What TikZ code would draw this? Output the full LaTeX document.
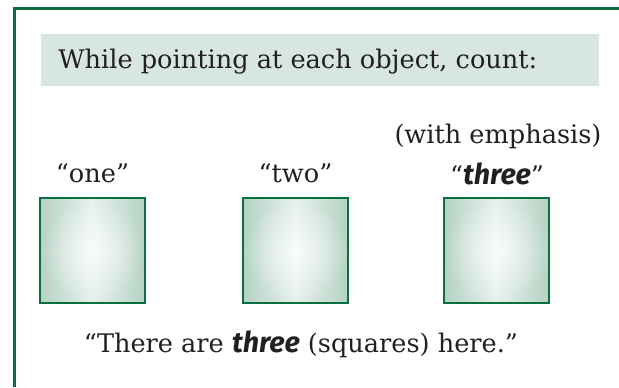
\documentclass[tikz,border=0pt]{standalone}
\usepackage{fontspec}
\setmainfont{DejaVu Serif}
\newfontfamily\emfont[Scale=1.12]{Fira Sans}
\usetikzlibrary{fadings}
\definecolor{framegreen}{RGB}{10,110,62}
\definecolor{bandgreen}{RGB}{215,231,223}
\definecolor{sqgreen}{RGB}{180,210,196}
\definecolor{sqpale}{RGB}{230,240,235}
\definecolor{inkgray}{RGB}{35,31,32}
\tikzfading[name=sqglow, inner color=transparent!25, outer color=transparent!100]
\newcommand{\emword}[1]{{\emfont\bfseries\itshape #1}}
\tikzset{
  framerule/.style = {framegreen,line width=1.5pt},
  headband/.style  = {fill=bandgreen,draw=none},
  countsq/.style   = {draw=framegreen,line width=1.2pt,minimum size=52.5pt,inner sep=0pt,
                      left color=sqgreen,right color=sqgreen,middle color=sqpale,
                      postaction={fill=white,path fading=sqglow}},
  countlbl/.style  = {font=\fontsize{12.8}{15.5}\selectfont,text=inkgray,inner sep=0pt}
}

\begin{document}
\begin{tikzpicture}[x=0.5pt,y=-0.5pt]
  \useasboundingbox (0,0) rectangle (619,387);
  \draw[framerule] (14,387) -- (14,8) -- (619,8);
  \fill[headband] (41,34) rectangle (599,86);
  \node[countlbl,anchor=base west] (prompt) at (58,68) {While pointing at each object, count:};
  \node[countsq] (sqone)   at (92.5,250.5)  {};
  \node[countsq] (sqtwo)   at (295.5,250.5) {};
  \node[countsq] (sqthree) at (496.5,250.5) {};
  \node[countlbl,anchor=base] (lblone)   at (92.5,182)  {“one”};
  \node[countlbl,anchor=base] (lbltwo)   at (295.5,182) {“two”};
  \node[countlbl,anchor=base] (lblthree) at (497,184)   {“\emword{three}”};
  \node[countlbl,anchor=base] (emphnote) at (498,143)   {(with emphasis)};
  \node[countlbl,anchor=base] (summary)  at (301,352)   {“There are \emword{three} (squares) here.”};
\end{tikzpicture}
\end{document}
